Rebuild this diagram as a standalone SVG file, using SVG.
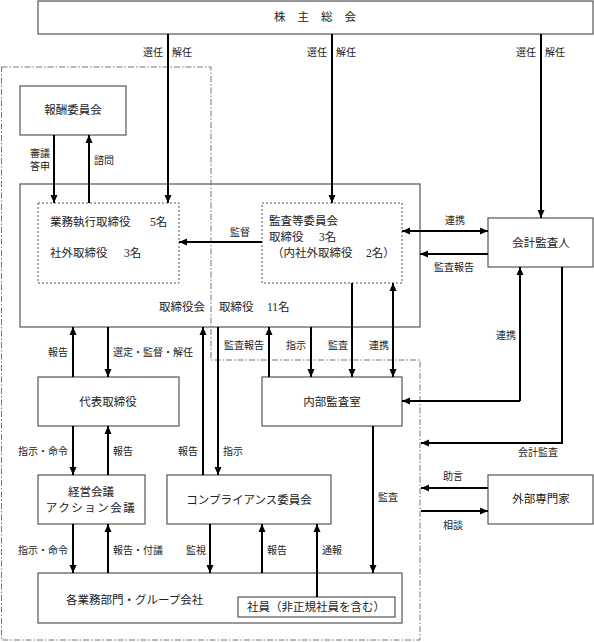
<svg xmlns="http://www.w3.org/2000/svg" width="594" height="642" viewBox="0 0 594 642">
<style>
text{font-family:"Liberation Serif","Noto Sans CJK JP",serif;fill:#222;}
.t{font-size:11.5px;}
.l{font-size:10px;}
.box{fill:#fff;stroke:#555;stroke-width:1.2;}
.dot{fill:none;stroke:#555;stroke-width:1;stroke-dasharray:2,2;}
.dd{fill:none;stroke:#666;stroke-width:0.9;stroke-dasharray:6,2,1.5,2;}
.a{fill:none;stroke:#000;stroke-width:2;marker-end:url(#ah);}
.b{fill:none;stroke:#000;stroke-width:2;marker-end:url(#ah);marker-start:url(#ah);}
</style>
<defs>
<marker id="ah" markerUnits="userSpaceOnUse" markerWidth="8" markerHeight="8" refX="8" refY="4" orient="auto-start-reverse">
<path d="M0,0.5 L8,4 L0,7.5 z" fill="#000"/>
</marker>
</defs>
<g id="n-shareholders"><rect class="box" x="38" y="1" width="555" height="33"/><text class="t" x="321" y="21" text-anchor="middle" letter-spacing="12">株主総会</text></g>
<g id="n-board"><rect class="box" x="20" y="184" width="400" height="143"/><text class="t" x="159" y="311">取締役会</text><text class="t" x="219" y="311">取締役</text><text class="t" x="267" y="311">11名</text></g>
<g id="region">
<path class="dd" d="M1.5,67 H211 V360 H420 V640 H1.5 Z"/>
</g>
<g id="n-remuneration"><rect class="box" x="20" y="86" width="106" height="49"/><text class="t" x="73" y="114" text-anchor="middle">報酬委員会</text></g>
<g id="n-exec"><rect class="dot" x="38" y="203" width="141" height="80"/><text class="t" x="50" y="226">業務執行取締役</text><text class="t" x="150" y="226">5名</text><text class="t" x="50" y="257">社外取締役</text><text class="t" x="124" y="257">3名</text></g>
<g id="n-audit"><rect class="dot" x="262" y="203" width="140" height="80"/><text class="t" x="269" y="225">監査等委員会</text><text class="t" x="269" y="241">取締役</text><text class="t" x="319" y="241">3名</text><text class="t" x="272" y="257">（内社外取締役</text><text class="t" x="366" y="257">2名）</text></g>
<g id="n-accountant"><rect class="box" x="488" y="218" width="105" height="49"/><text class="t" x="541" y="247" text-anchor="middle">会計監査人</text></g>
<g id="n-ceo"><rect class="box" x="38" y="377" width="141" height="49"/><text class="t" x="108" y="406" text-anchor="middle">代表取締役</text></g>
<g id="n-internal"><rect class="box" x="262" y="377" width="140" height="49"/><text class="t" x="332" y="406" text-anchor="middle">内部監査室</text></g>
<g id="n-mgmt"><rect class="box" x="38" y="475" width="107" height="49"/><text class="t" x="91" y="496" text-anchor="middle">経営会議</text><text class="t" x="91" y="512" text-anchor="middle" letter-spacing="1.5">アクション会議</text></g>
<g id="n-compliance"><rect class="box" x="167" y="475" width="164" height="49"/><text class="t" x="249" y="504" text-anchor="middle">コンプライアンス委員会</text></g>
<g id="n-experts"><rect class="box" x="488" y="475" width="105" height="49"/><text class="t" x="541" y="503" text-anchor="middle">外部専門家</text></g>
<g id="n-divisions"><rect class="box" x="38" y="573" width="364" height="50"/><text class="t" x="66" y="604">各業務部門・グループ会社</text></g>
<g id="n-employees"><rect class="box" x="238" y="597" width="157" height="20"/><text class="t" x="316" y="611" text-anchor="middle">社員（非正規社員を含む）</text></g>
<g id="connectors">
<path class="a" d="M168,34 V203"/>
<path class="a" d="M332,34 V203"/>
<path class="a" d="M541,34 V218"/>
<path class="a" d="M54,135 V203"/>
<path class="a" d="M89,203 V135"/>
<path class="a" d="M262,242 H179"/>
<path class="b" d="M402,231 H488"/>
<path class="a" d="M488,254 H420"/>
<path class="a" d="M73,377 V327"/>
<path class="a" d="M108,327 V377"/>
<path class="a" d="M203,475 V327"/>
<path class="a" d="M218,327 V475"/>
<path class="a" d="M269,377 V327"/>
<path class="a" d="M311,327 V377"/>
<path class="a" d="M352,283 V377"/>
<path class="b" d="M393,283 V377"/>
<path class="a" d="M520,401 V267"/>
<path class="a" d="M520,401 H402"/>
<path class="a" d="M562,267 V443 H421"/>
<path class="a" d="M73,426 V475"/>
<path class="a" d="M108,475 V426"/>
<path class="a" d="M73,524 V573"/>
<path class="a" d="M108,573 V524"/>
<path class="a" d="M210,524 V573"/>
<path class="a" d="M262,573 V524"/>
<path class="a" d="M317,597 V524"/>
<path class="a" d="M373,426 V573"/>
<path class="a" d="M488,488 H421"/>
<path class="a" d="M421,511 H488"/>
</g>
<g id="labels">
<text class="l" x="163" y="56" text-anchor="end">選任</text><text class="l" x="172" y="56">解任</text>
<text class="l" x="327" y="56" text-anchor="end">選任</text><text class="l" x="336" y="56">解任</text>
<text class="l" x="536" y="56" text-anchor="end">選任</text><text class="l" x="545" y="56">解任</text>
<text class="l" x="40" y="157" text-anchor="middle">審議</text><text class="l" x="40" y="170" text-anchor="middle">答申</text>
<text class="l" x="94" y="164">諮問</text>
<text class="l" x="240" y="236" text-anchor="middle">監督</text>
<text class="l" x="455" y="224" text-anchor="middle">連携</text>
<text class="l" x="454" y="271" text-anchor="middle">監査報告</text>
<text class="l" x="68" y="356" text-anchor="end">報告</text>
<text class="l" x="113" y="356">選定・監督・解任</text>
<text class="l" x="244" y="349" text-anchor="middle">監査報告</text>
<text class="l" x="296" y="349" text-anchor="middle">指示</text>
<text class="l" x="338" y="349" text-anchor="middle">監査</text>
<text class="l" x="379" y="349" text-anchor="middle">連携</text>
<text class="l" x="506" y="339" text-anchor="middle">連携</text>
<text class="l" x="538" y="456" text-anchor="middle">会計監査</text>
<text class="l" x="68" y="455" text-anchor="end">指示・命令</text>
<text class="l" x="113" y="455">報告</text>
<text class="l" x="198" y="455" text-anchor="end">報告</text>
<text class="l" x="223" y="455">指示</text>
<text class="l" x="378" y="501">監査</text>
<text class="l" x="453" y="480" text-anchor="middle">助言</text>
<text class="l" x="453" y="529" text-anchor="middle">相談</text>
<text class="l" x="68" y="554" text-anchor="end">指示・命令</text>
<text class="l" x="113" y="554">報告・付議</text>
<text class="l" x="206" y="554" text-anchor="end">監視</text>
<text class="l" x="267" y="554">報告</text>
<text class="l" x="322" y="554">通報</text>
</g>
</svg>
